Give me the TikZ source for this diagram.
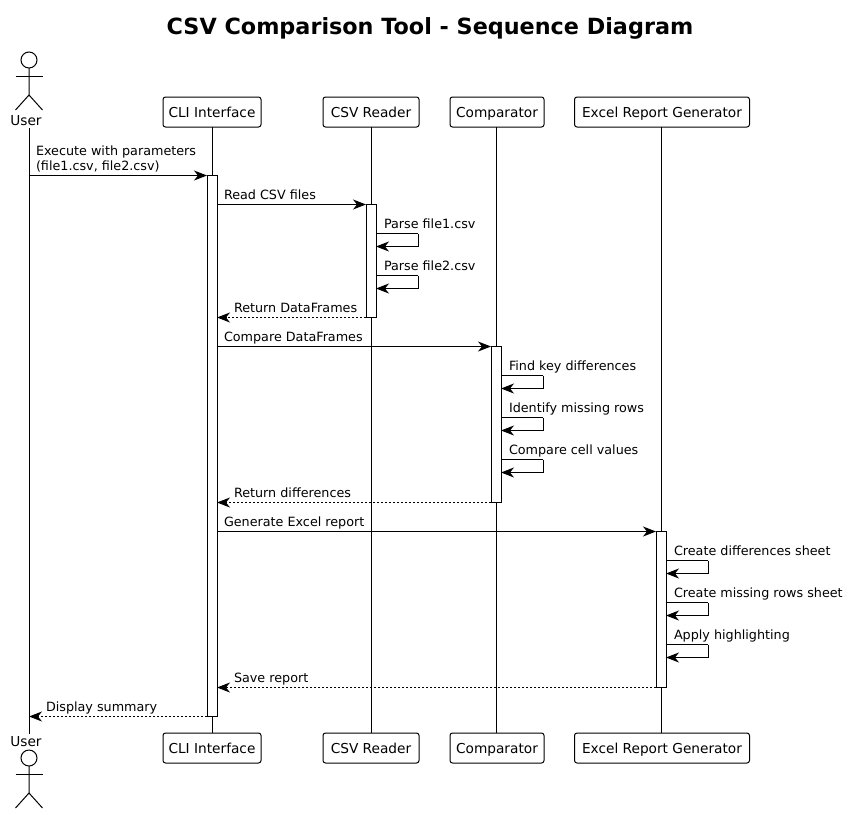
\documentclass[tikz,border=0pt]{standalone}
\usepackage{fontspec}
\setmainfont{DejaVu Sans}
\usetikzlibrary{calc,arrows.meta,positioning}
\tikzset{
	partbox/.style={draw,fill=white,rounded corners=2.5pt,line width=1pt,minimum height=30pt,inner sep=0pt,outer sep=0pt,text height=12pt,text depth=1pt,font=\fontsize{13.7}{15}\selectfont},
	actbar/.style={draw,fill=white,line width=1pt,minimum width=10pt,inner sep=0pt,outer sep=0pt},
	actorhead/.style={draw,circle,line width=1pt,minimum size=16pt,inner sep=0pt,outer sep=0pt},
	actorname/.style={anchor=base,inner sep=0pt,font=\fontsize{13.7}{15}\selectfont},
	lifeline/.style={line width=1pt},
	msgline/.style={line width=1pt,-{Stealth[length=13pt,width=10pt,inset=4pt]}},
	retline/.style={msgline,dash pattern=on 2pt off 2pt},
	msglabel/.style={anchor=base west,inner sep=0pt,outer sep=0pt,font=\fontsize{12.75}{15}\selectfont,align=left},
}
\begin{document}
\begin{tikzpicture}[x=1pt,y=-1pt]
	\useasboundingbox[fill=white] (0,0) rectangle (848,814);
	\def\actor#1#2{
		\node[actorhead] (#1) at (29,#2) {};
		\draw[line width=1pt] (#1.south) -- ++(0,27) coordinate (#1hip) -- ++(-13.5,15);
		\draw[line width=1pt] (#1hip) -- ++(13.5,15);
		\draw[line width=1pt] ($(#1)+(-13.5,16)$) -- ($(#1)+(13.5,16)$);
	}
	\def\forward#1#2#3#4{
		\draw[msgline] (#1 |- msg#3) -- node[msglabel,at start,xshift=7pt,yshift=5pt,anchor=base west] {#4} (#2 |- msg#3);
	}
	\def\back#1#2#3#4{
		\draw[retline] (#1 |- msg#3) -- node[msglabel,at end,xshift=17pt,yshift=5pt,anchor=base west] {#4} (#2 |- msg#3);
	}
	\def\selfmsg#1#2#3#4{
		\draw[line width=1pt] (#1 |- msg#2) -- ++(42,0) coordinate (turn#2);
		\draw[msgline] (turn#2) |- (#1 |- msg#3);
		\node[msglabel] (self#2) at ($(#1 |- msg#2)+(8,-5)$) {#4};
	}
	% rows of the messages
	\foreach \n/\y in {1/175.5,2/204.5,3/233.5,4/246.5,5/275.5,6/288.5,7/317.5,8/346.5,9/375.5,10/388.5,11/417.5,12/430.5,13/459.5,14/472.5,15/502.5,16/531.5,17/560.5,18/573.5,19/602.5,20/615.5,21/644.5,22/657.5,23/687.5,24/716.5}
		\coordinate (msg\n) at (0,\y);
	\node[anchor=base,inner sep=0pt,font=\fontsize{22.3}{25}\selectfont\bfseries] (title) at (430,34) {CSV Comparison Tool - Sequence Diagram};
	% actors
	\actor{utop}{60}
	\actor{ubot}{758}
	\node[actorname] (ulabeltop) at (26,125) {User};
	\node[actorname] (ulabelbot) at (26,746) {User};
	% participants
	\node[partbox,minimum width=98pt] (cli) at (212,112) {CLI Interface};
	\node[partbox,minimum width=96pt] (csv) at (371,112) {CSV Reader};
	\node[partbox,minimum width=94pt] (cmp) at (497,112) {Comparator};
	\node[partbox,minimum width=175pt] (xls) at (662,112) {Excel Report Generator};
	\node[partbox,minimum width=98pt] (clib) at (212,748) {CLI Interface};
	\node[partbox,minimum width=96pt] (csvb) at (371,748) {CSV Reader};
	\node[partbox,minimum width=94pt] (cmpb) at (497,748) {Comparator};
	\node[partbox,minimum width=175pt] (xlsb) at (662,748) {Excel Report Generator};
	% lifelines
	\coordinate (ustart) at (29,128);
	\coordinate (uend) at (29,734);
	\coordinate (lcmp) at (496,0);
	\coordinate (lxls) at (661,0);
	\draw[lifeline] (ustart) -- (uend);
	\draw[lifeline] (cli.south) -- (clib.north);
	\draw[lifeline] (csv.south) -- (csvb.north);
	\draw[lifeline] (lcmp |- cmp.south) -- (lcmp |- cmpb.north);
	\draw[lifeline] (lxls |- xls.south) -- (lxls |- xlsb.north);
	% activations
	\node[actbar,minimum height=541pt] (acli) at (212,446) {};
	\node[actbar,minimum height=113pt] (acsv) at (371,261) {};
	\node[actbar,minimum height=156pt] (acmp) at (496,424.5) {};
	\node[actbar,minimum height=156pt] (axls) at (661,609.5) {};
	% messages
	\draw[msgline] (ustart |- msg1) -- (acli.west |- msg1);
	\node[msglabel] (m1label) at (36,170) {Execute with parameters\\(file1.csv, file2.csv)};
	\forward{acli.east}{acsv.west}{2}{Read CSV files}
	\selfmsg{acsv.east}{3}{4}{Parse file1.csv}
	\selfmsg{acsv.east}{5}{6}{Parse file2.csv}
	\back{acsv.west}{acli.east}{7}{Return DataFrames}
	\forward{acli.east}{acmp.west}{8}{Compare DataFrames}
	\selfmsg{acmp.east}{9}{10}{Find key differences}
	\selfmsg{acmp.east}{11}{12}{Identify missing rows}
	\selfmsg{acmp.east}{13}{14}{Compare cell values}
	\back{acmp.west}{acli.east}{15}{Return differences}
	\forward{acli.east}{axls.west}{16}{Generate Excel report}
	\selfmsg{axls.east}{17}{18}{Create differences sheet}
	\selfmsg{axls.east}{19}{20}{Create missing rows sheet}
	\selfmsg{axls.east}{21}{22}{Apply highlighting}
	\back{axls.west}{acli.east}{23}{Save report}
	\back{acli.west}{ustart}{24}{Display summary}
\end{tikzpicture}
\end{document}
